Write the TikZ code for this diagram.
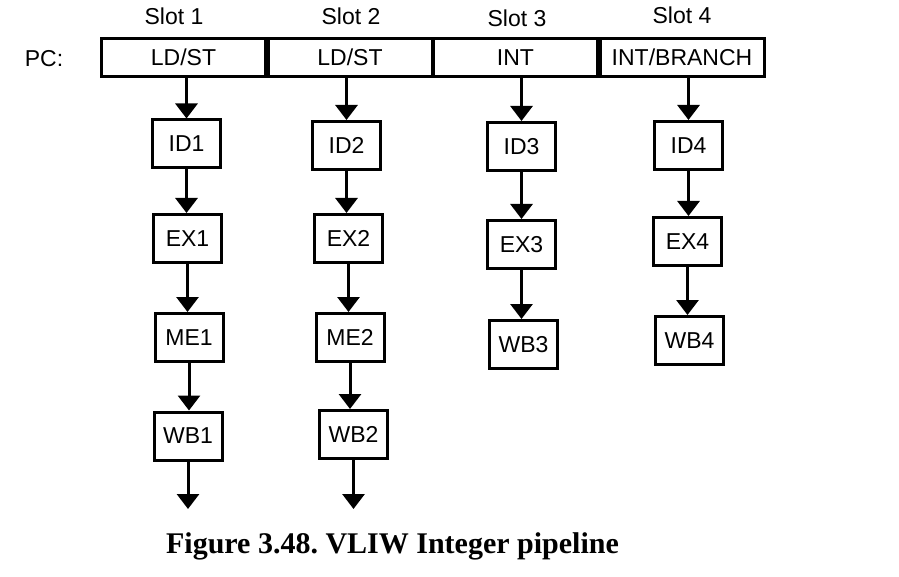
\documentclass[tikz,border=0pt]{standalone}
\usepackage{fontspec}
\setmainfont{Liberation Sans}
\newfontfamily\capfont{Liberation Serif}
\usetikzlibrary{arrows.meta}
\frenchspacing
\begin{document}
\begin{tikzpicture}[x=1pt,y=-1pt,line width=3pt,
    stage/.style={draw,minimum width=68pt,minimum height=48pt,inner sep=0pt,font=\fontsize{23}{27}\selectfont},
    slotbox/.style={draw,minimum width=164pt,minimum height=38pt,inner sep=0pt,font=\fontsize{23}{27}\selectfont},
    slotname/.style={inner sep=0pt,font=\fontsize{23}{27}\selectfont},
    flow/.style={-{Triangle[width=22pt,length=15pt]}}]
    \useasboundingbox (0,0) rectangle (899,577);
    % slot headings
    \node[slotname] (t1) at (174,16.5) {Slot 1};
    \node[slotname] (t2) at (351,16.5) {Slot 2};
    \node[slotname] (t3) at (517,18) {Slot 3};
    \node[slotname] (t4) at (682,15) {Slot 4};
    \node[slotname] (pc) at (44,59) {PC:};
    % instruction word
    \node[slotbox] (s1) at (183.5,57.5) {LD/ST};
    \node[slotbox] (s2) at (350,57.5) {LD/ST};
    \node[slotbox] (s3) at (515.5,57.5) {INT};
    \node[slotbox] (s4) at (682,57.5) {INT/BRANCH};
    % pipeline stages
    \node[stage] (id1) at (186.5,144) {ID1};
    \node[stage] (id2) at (346.5,145.5) {ID2};
    \node[stage] (id3) at (521.5,146.5) {ID3};
    \node[stage] (id4) at (688.5,145.5) {ID4};
    \node[stage] (ex1) at (187.5,238.5) {EX1};
    \node[stage] (ex2) at (348.5,238.5) {EX2};
    \node[stage] (ex3) at (521.5,244.5) {EX3};
    \node[stage] (ex4) at (687.5,241.5) {EX4};
    \node[stage] (me1) at (189,337.5) {ME1};
    \node[stage] (me2) at (350,337.5) {ME2};
    \node[stage] (wb1) at (188,436) {WB1};
    \node[stage] (wb2) at (353.5,434.5) {WB2};
    \node[stage] (wb3) at (523.5,344.5) {WB3};
    \node[stage] (wb4) at (689.5,340.5) {WB4};
    \coordinate (out1) at (188,509);
    \coordinate (out2) at (353.5,509);
    % arrows
    \draw[flow] (s1.south -| id1) -- (id1.north);
    \draw[flow] (s2.south -| id2) -- (id2.north);
    \draw[flow] (s3.south -| id3) -- (id3.north);
    \draw[flow] (s4.south -| id4) -- (id4.north);
    \draw[flow] (id1.south) -- (id1.south |- ex1.north);
    \draw[flow] (id2.south) -- (id2.south |- ex2.north);
    \draw[flow] (id3.south) -- (id3.south |- ex3.north);
    \draw[flow] (id4.south) -- (id4.south |- ex4.north);
    \draw[flow] (ex1.south) -- (ex1.south |- me1.north);
    \draw[flow] (ex2.south) -- (ex2.south |- me2.north);
    \draw[flow] (ex3.south) -- (ex3.south |- wb3.north);
    \draw[flow] (ex4.south) -- (ex4.south |- wb4.north);
    \draw[flow] (me1.south) -- (me1.south |- wb1.north);
    \draw[flow] (me2.south) -- (me2.south |- wb2.north);
    \draw[flow] (wb1.south) -- (wb1.south |- out1);
    \draw[flow] (wb2.south) -- (wb2.south |- out2);
    % caption
    \node[anchor=base,inner sep=0pt,font=\capfont\bfseries\fontsize{30}{36}\selectfont] (cap) at (392.5,553) {Figure 3.48. VLIW Integer pipeline};
\end{tikzpicture}
\end{document}
